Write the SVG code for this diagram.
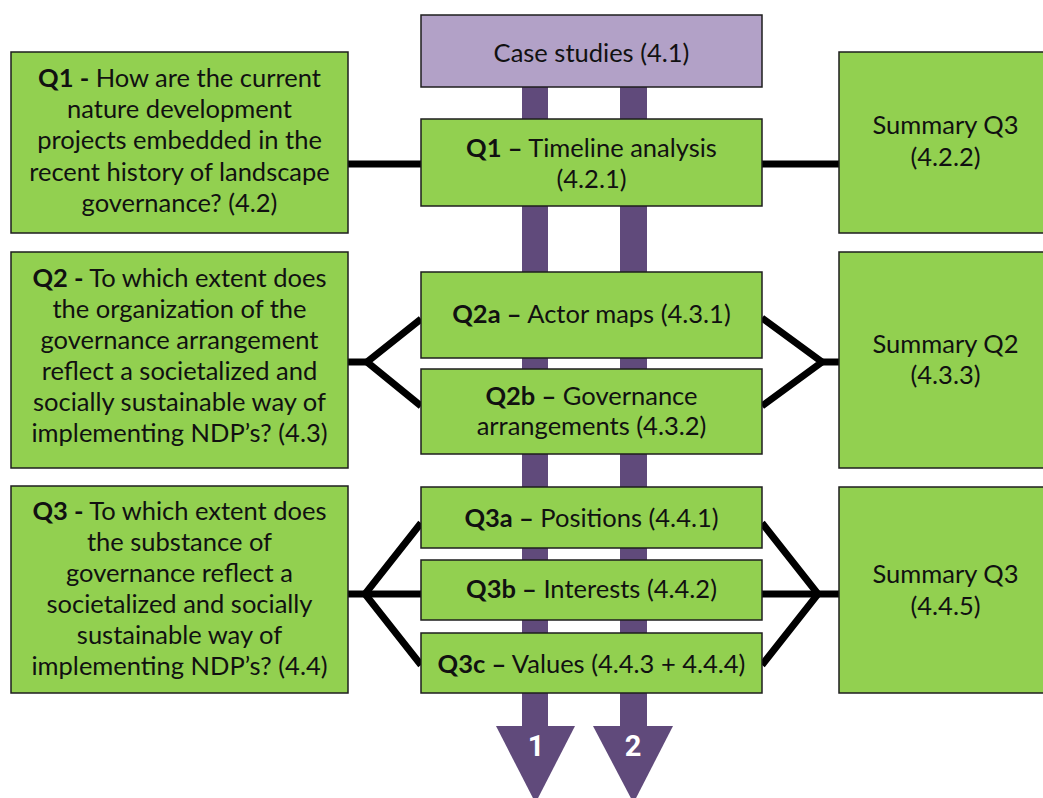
<svg xmlns="http://www.w3.org/2000/svg" width="1043" height="798" viewBox="0 0 1043 798">
  <style>
    .box { fill: #92d050; stroke: #1e1e1e; stroke-width: 1.5; }
    .case { fill: #b2a1c7; stroke: #1e1e1e; stroke-width: 1.5; }
    .flow { fill: #604a7b; }
    .link { fill: none; stroke: #000; stroke-width: 7; stroke-linejoin: miter; }
    text { font-family: Lato, "Liberation Sans", sans-serif; font-size: 25.5px; fill: #111; text-anchor: middle; }
    .b { font-weight: bold; }
    .num { font-family: Roboto, "Liberation Sans", sans-serif; font-size: 29px; font-weight: bold; fill: #fff; }
  </style>

  <!-- two purple flow arrows running behind the central column -->
  <g id="flow-arrows">
    <rect class="flow" x="522" y="86" width="26" height="642"/>
    <polygon class="flow" points="496,726 575,726 535.5,803"/>
    <text class="num" x="536" y="756">1</text>
    <rect class="flow" x="620" y="86" width="27" height="642"/>
    <polygon class="flow" points="593,726 673,726 633.5,803"/>
    <text class="num" x="633" y="756">2</text>
  </g>

  <!-- black connectors between questions, methods and summaries -->
  <g id="connectors">
    <line class="link" x1="348" y1="164" x2="421" y2="164"/>
    <line class="link" x1="762" y1="164" x2="839" y2="164"/>
    <polyline class="link" points="348,362 367,362"/>
    <polyline class="link" points="421,319 367,362 421,406"/>
    <polyline class="link" points="762,318 822,362 762,406"/>
    <polyline class="link" points="822,362 839,362"/>
    <polyline class="link" points="348,594 365,594 421,594"/>
    <polyline class="link" points="421,523 365,594 421,665"/>
    <polyline class="link" points="762,523 818,594 762,665"/>
    <polyline class="link" points="762,594 839,594"/>
  </g>

  <g id="case-studies">
    <rect class="case" x="421" y="15" width="341" height="72"/>
    <text x="591.5" y="61.5">Case studies (4.1)</text>
  </g>

  <g id="q1-question">
    <rect class="box" x="11" y="52" width="337" height="181"/>
    <text x="179.5" y="86.5"><tspan class="b">Q1 -</tspan> How are the current</text>
    <text x="179.5" y="118">nature development</text>
    <text x="179.5" y="149">projects embedded in the</text>
    <text x="179.5" y="180.5">recent history of landscape</text>
    <text x="179.5" y="212">governance? (4.2)</text>
  </g>

  <g id="q1-timeline">
    <rect class="box" x="421" y="119" width="341" height="87"/>
    <text x="591.5" y="157"><tspan class="b">Q1 –</tspan> Timeline analysis</text>
    <text x="591.5" y="187.5">(4.2.1)</text>
  </g>

  <g id="summary-4-2-2">
    <rect class="box" x="839" y="52" width="220" height="181"/>
    <text x="945.5" y="134">Summary Q3</text>
    <text x="945.5" y="166">(4.2.2)</text>
  </g>

  <g id="q2-question">
    <rect class="box" x="11" y="252" width="337" height="216"/>
    <text x="179.5" y="286.5"><tspan class="b">Q2 -</tspan> To which extent does</text>
    <text x="179.5" y="317.5">the organization of the</text>
    <text x="179.5" y="348.5">governance arrangement</text>
    <text x="179.5" y="379.5">reflect a societalized and</text>
    <text x="179.5" y="410.5">socially sustainable way of</text>
    <text x="179.5" y="442">implementing NDP’s? (4.3)</text>
  </g>

  <g id="q2a-actor-maps">
    <rect class="box" x="421" y="272" width="341" height="86"/>
    <text x="591.5" y="323"><tspan class="b">Q2a –</tspan> Actor maps (4.3.1)</text>
  </g>

  <g id="q2b-governance-arrangements">
    <rect class="box" x="421" y="369" width="341" height="85"/>
    <text x="591.5" y="405"><tspan class="b">Q2b –</tspan> Governance</text>
    <text x="591.5" y="435">arrangements (4.3.2)</text>
  </g>

  <g id="summary-4-3-3">
    <rect class="box" x="839" y="252" width="220" height="216"/>
    <text x="945.5" y="353">Summary Q2</text>
    <text x="945.5" y="384">(4.3.3)</text>
  </g>

  <g id="q3-question">
    <rect class="box" x="11" y="486" width="337" height="207"/>
    <text x="179.5" y="520"><tspan class="b">Q3 -</tspan> To which extent does</text>
    <text x="179.5" y="551">the substance of</text>
    <text x="179.5" y="582">governance reflect a</text>
    <text x="179.5" y="613">societalized and socially</text>
    <text x="179.5" y="644">sustainable way of</text>
    <text x="179.5" y="675">implementing NDP’s? (4.4)</text>
  </g>

  <g id="q3a-positions">
    <rect class="box" x="421" y="487" width="341" height="61"/>
    <text x="591.5" y="527"><tspan class="b">Q3a –</tspan> Positions (4.4.1)</text>
  </g>

  <g id="q3b-interests">
    <rect class="box" x="421" y="560" width="341" height="60"/>
    <text x="591.5" y="598"><tspan class="b">Q3b –</tspan> Interests (4.4.2)</text>
  </g>

  <g id="q3c-values">
    <rect class="box" x="421" y="633" width="341" height="60"/>
    <text x="591.5" y="673"><tspan class="b">Q3c –</tspan> Values (4.4.3 + 4.4.4)</text>
  </g>

  <g id="summary-4-4-5">
    <rect class="box" x="839" y="487" width="220" height="206"/>
    <text x="945.5" y="583">Summary Q3</text>
    <text x="945.5" y="615">(4.4.5)</text>
  </g>
</svg>
